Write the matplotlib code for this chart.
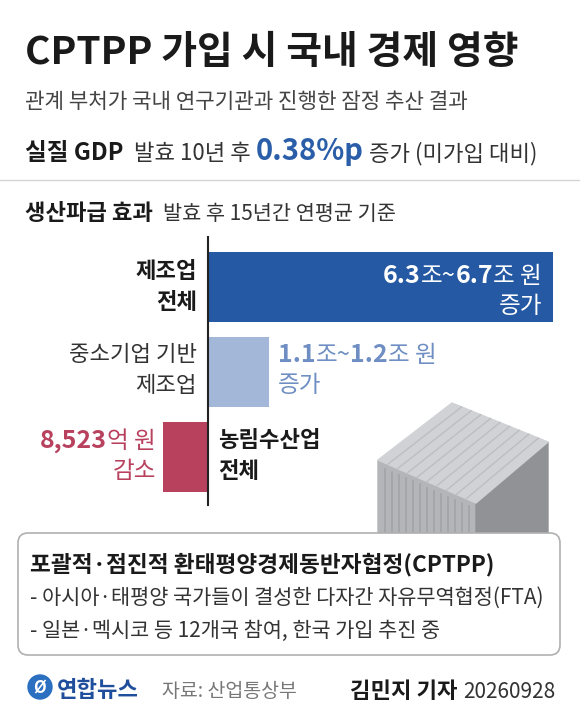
import matplotlib.pyplot as plt
from matplotlib.patches import FancyBboxPatch, Polygon, Circle

plt.rcParams['font.family'] = ['Noto Sans CJK KR', 'DejaVu Sans']

# data
categories = ["제조업\n전체", "중소기업 기반\n제조업", "농림수산업\n전체"]
values = [6.5, 1.15, -0.8523]          # 조 원 (midpoints of ranges)
bar_colors = ["#2559a3", "#a3b8d8", "#b8415e"]

W, H = 580, 720
fig = plt.figure(figsize=(W / 100, H / 100), dpi=100)
fig.patch.set_facecolor("white")

# overlay in pixel coordinates (y downwards)
ov = fig.add_axes([0, 0, 1, 1], zorder=1)
ov.set_xlim(0, W)
ov.set_ylim(H, 0)
ov.axis("off")
ov.patch.set_alpha(0)

# bar axes: 0 at x=208, 53 px per unit; category i centred at y=287+85*i
px_unit, x0 = 53.0, 208.0
ax = fig.add_axes([0, 0, 1, 1], zorder=0)
ax.set_xlim(-x0 / px_unit, (W - x0) / px_unit)
ax.set_ylim((H - 287) / 85, -287 / 85)
ax.axis("off")
ax.barh(range(len(values)), values, height=0.82, color=bar_colors, zorder=2)
ax.plot([0, 0], [(237 - 287) / 85, (505 - 287) / 85], color="#222222", lw=1.5, zorder=3)

fig.canvas.draw()
renderer = fig.canvas.get_renderer()


def segs(x, y, parts, ha="left"):
    # draw text pieces one after another on a line
    widths = []
    for t, kw in parts:
        tmp = ov.text(0, 0, t, **kw)
        bb = tmp.get_window_extent(renderer)
        widths.append(bb.width)
        tmp.remove()
    if ha == "right":
        x = x - sum(widths)
    for (t, kw), w in zip(parts, widths):
        ov.text(x, y, t, va="baseline", ha="left", **kw)
        x += w


# container illustration (decorative)
tl, tb, tr, tf = (378, 460), (452, 403), (548, 442), (476, 503)
ov.add_patch(Polygon([tl, tf, (476, 545), (378, 545)], color="#b3b5b8", zorder=0))
ov.add_patch(Polygon([tf, tr, (548, 545), (476, 545)], color="#909296", zorder=0))
ov.add_patch(Polygon([tl, tb, tr, tf], color="#d0d2d5", zorder=0))
for k in range(1, 10):
    f = k / 10
    p = (tb[0] + (tr[0] - tb[0]) * f, tb[1] + (tr[1] - tb[1]) * f)
    q = (tl[0] + (tf[0] - tl[0]) * f, tl[1] + (tf[1] - tl[1]) * f)
    ov.plot([q[0], p[0]], [q[1], p[1]], color="#bcbec1", lw=1, zorder=0)
for k in range(1, 14):
    xx = 378 + (476 - 378) * k / 14
    ov.plot([xx, xx], [460 + 43 * k / 14 + 6, 545], color="#a2a4a7", lw=1.2, zorder=0)

# title block
ov.text(25, 64, "CPTPP 가입 시 국내 경제 영향", fontsize=28, fontweight="bold", color="#1a1a1a")
ov.text(25, 108, "관계 부처가 국내 연구기관과 진행한 잠정 추산 결과", fontsize=15.3, color="#444444")
segs(25, 160, [("실질 GDP  ", dict(fontsize=17, fontweight="bold", color="#1a1a1a")),
               ("발효 10년 후 ", dict(fontsize=16, color="#333333")),
               ("0.38%p", dict(fontsize=21, fontweight="bold", color="#2a5ea8")),
               (" 증가 (미가입 대비)", dict(fontsize=16, color="#333333"))])
ov.plot([0, W], [180, 180], color="#d5d5d5", lw=1)
segs(25, 220, [("생산파급 효과  ", dict(fontsize=16, fontweight="bold", color="#1a1a1a")),
               ("발효 후 15년간 연평균 기준", dict(fontsize=15, color="#333333"))])

# category labels
ov.text(197, 287, categories[0], ha="right", va="center", fontsize=16, fontweight="bold",
        color="#1a1a1a", linespacing=1.4)
ov.text(197, 370, categories[1], ha="right", va="center", fontsize=16, color="#333333",
        linespacing=1.4)
ov.text(218, 456, categories[2], ha="left", va="center", fontsize=16, fontweight="bold",
        color="#1a1a1a", linespacing=1.4)

# value labels
wb = dict(fontsize=18, fontweight="bold", color="white")
wn = dict(fontsize=17, color="white")
segs(542, 283, [("6.3", wb), ("조~", wn), ("6.7", wb), ("조 원", wn)], ha="right")
ov.text(542, 313, "증가", ha="right", va="baseline", **wn)
lb = dict(fontsize=18, fontweight="bold", color="#6f8fc4")
ln = dict(fontsize=17, color="#6f8fc4")
segs(278, 362, [("1.1", lb), ("조~", ln), ("1.2", lb), ("조 원", ln)])
ov.text(278, 392, "증가", va="baseline", **ln)
rb = dict(fontsize=18, fontweight="bold", color="#b8415e")
rn = dict(fontsize=17, color="#b8415e")
segs(156, 448, [("8,523", rb), ("억 원", rn)], ha="right")
ov.text(156, 478, "감소", ha="right", va="baseline", **rn)

# info box
ov.add_patch(FancyBboxPatch((18, 533), 542, 122, boxstyle="round,pad=0,rounding_size=10",
                            facecolor="white", edgecolor="#b0b0b0", lw=1.2, zorder=2))
ov.text(30, 571, "포괄적·점진적 환태평양경제동반자협정(CPTPP)", fontsize=16.3, fontweight="bold",
        color="#1a1a1a", zorder=3)
ov.text(30, 604, "- 아시아·태평양 국가들이 결성한 다자간 자유무역협정(FTA)", fontsize=15,
        color="#333333", zorder=3)
ov.text(30, 637, "- 일본·멕시코 등 12개국 참여, 한국 가입 추진 중", fontsize=15,
        color="#333333", zorder=3)

# footer
ov.add_patch(Circle((40, 687), 12, color="#2a6fc0"))
ov.text(40, 688, "Ø", ha="center", va="center", fontsize=12, fontweight="bold", color="white",
        style="italic")
ov.text(57, 697, "연합뉴스", fontsize=16, fontweight="bold", color="#1f4e9c")
ov.text(162, 697, "자료: 산업통상부", fontsize=14, color="#777777")
segs(555, 698, [("김민지 기자 ", dict(fontsize=16, fontweight="bold", color="#1a1a1a")),
                ("20260928", dict(fontsize=15, color="#333333"))], ha="right")

fig.savefig("out.png", dpi=100)
